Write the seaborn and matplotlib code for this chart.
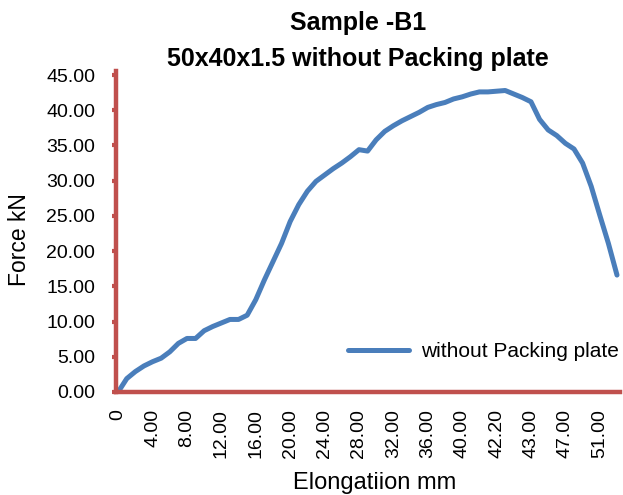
import matplotlib
matplotlib.use("Agg")
import matplotlib.pyplot as plt
import matplotlib.patheffects as pe
import numpy as np
import pandas as pd
import seaborn as sns

# Elongation readings (mm) used as category labels along the x axis
elongation = [0, 1, 2, 3, 4, 5, 6, 7, 8, 9, 10, 11, 12, 13, 14, 15, 16, 17, 18, 19,
              20, 21, 22, 23, 24, 25, 26, 27, 28, 29, 30, 31, 32, 33, 34, 35, 36, 37,
              38, 39, 40, 40.5, 41, 41.5, 42.2, 42.4, 42.6, 42.8, 43, 44, 45, 46, 47,
              48, 49, 50, 51, 52, 53]

# Measured force (kN)
force = [0.0, 1.9, 2.9, 3.7, 4.3, 4.8, 5.7, 6.9, 7.6, 7.6, 8.7, 9.3, 9.8, 10.3,
         10.3, 10.9, 13.1, 15.9, 18.5, 21.1, 24.2, 26.6, 28.5, 29.9, 30.8, 31.7,
         32.5, 33.4, 34.4, 34.2, 35.8, 37.0, 37.8, 38.5, 39.1, 39.7, 40.4, 40.8,
         41.1, 41.6, 41.9, 42.3, 42.6, 42.6, 42.7, 42.8, 42.3, 41.8, 41.2, 38.7,
         37.2, 36.4, 35.3, 34.5, 32.5, 29.2, 25.1, 21.1, 16.6]

y_ticks = [0, 5, 10, 15, 20, 25, 30, 35, 40, 45]
series_name = "without Packing plate"

RED = "#C0504D"
BLUE = "#4A7EBB"

sns.set_theme(style="white")
plt.rcParams["font.family"] = ["Liberation Sans", "DejaVu Sans"]
plt.rcParams["text.color"] = "black"
plt.rcParams["axes.labelcolor"] = "black"

df = pd.DataFrame({"idx": np.arange(len(elongation)), "force": force,
                   "series": series_name})

fig = plt.figure(figsize=(6.23, 4.95), dpi=100)
ax = fig.add_axes([116 / 623, 1 - 392 / 495, (620 - 116) / 623, (392 - 75) / 495])

sns.lineplot(data=df, x="idx", y="force", hue="series", palette=[BLUE],
             linewidth=3.6, ax=ax, legend=True)

ax.set_xlim(-0.25, 58.35)
ax.set_ylim(0, 45)

# Category labels every fourth reading
tick_idx = list(range(0, len(elongation), 4))
tick_lab = ["0" if elongation[i] == 0 else f"{elongation[i]:.2f}" for i in tick_idx]
ax.set_xticks(tick_idx)
ax.set_xticklabels(tick_lab, rotation=90, fontsize=14)
ax.set_yticks(y_ticks)
ax.set_yticklabels([f"{v:.2f}" for v in y_ticks], fontsize=14)

ax.tick_params(axis="y", direction="out", length=3, width=3, color=RED, pad=12,
               left=True, labelcolor="black")
ax.tick_params(axis="x", length=0, pad=12, bottom=True, labelcolor="black")

for side in ("top", "right"):
    ax.spines[side].set_visible(False)
shadow = [pe.SimplePatchShadow(offset=(1.5, -2), alpha=0.25), pe.Normal()]
for side in ("left", "bottom"):
    ax.spines[side].set_color(RED)
    ax.spines[side].set_linewidth(3.2)
    ax.spines[side].set_path_effects(shadow)
ax.spines["left"].set_bounds(0, 45.5)

ax.set_xlabel("Elongatiion mm", fontsize=17, va="center")
ax.xaxis.set_label_coords(0.514, -0.287)
ax.set_ylabel("Force kN", fontsize=16.5, va="center")
ax.yaxis.set_label_coords(-0.192, 0.48)
ax.grid(False)

leg = ax.legend(loc="center right", bbox_to_anchor=(1.035, 0.128), frameon=False,
                fontsize=15, handlelength=2.9, handletextpad=0.6)
for line in leg.get_lines():
    line.set_linewidth(3.6)

fig.text(358 / 623, 1 - 23 / 495, "Sample -B1", ha="center", va="center",
         fontsize=18, fontweight="bold")
fig.text(358 / 623, 1 - 59 / 495, "50x40x1.5 without Packing plate", ha="center",
         va="center", fontsize=18, fontweight="bold")

fig.savefig("out.png", dpi=100)
